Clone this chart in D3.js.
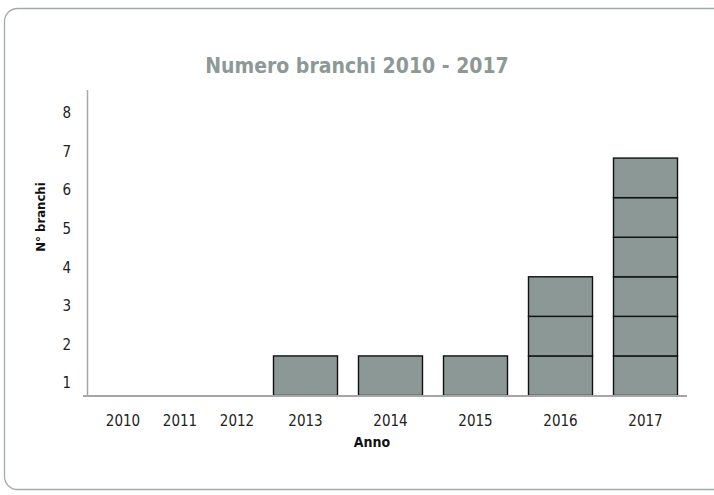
<!DOCTYPE html>
<html>
<head>
<meta charset="utf-8">
<script src="https://cdn.jsdelivr.net/npm/d3@7"></script>
<style>
  html, body { margin: 0; padding: 0; background: #fff; }
  svg { display: block; }
  text { font-family: "DejaVu Sans Condensed", "Roboto", sans-serif; }
</style>
</head>
<body>
<svg id="chart" width="714" height="495"></svg>
<script>
// Years on the category axis and number of branches per year
const years = ["2010", "2011", "2012", "2013", "2014", "2015", "2016", "2017"];
const branches = [0, 0, 0, 1, 1, 1, 3, 6];
// Labels shown along the vertical axis
const yTickLabels = [1, 2, 3, 4, 5, 6, 7, 8];

const svg = d3.select("#chart");

// Panel frame
svg.append("rect")
  .attr("x", 4.5).attr("y", 8.5)
  .attr("width", 740).attr("height", 481)
  .attr("rx", 13).attr("ry", 13)
  .attr("fill", "#fff")
  .attr("stroke", "#a3abaa")
  .attr("stroke-width", 1.3);

// Category centres: empty early years are packed closer together
const x = d3.scaleLinear()
  .domain([0, 2, 3, 7])
  .range([123, 237, 305.5, 645.5]);
const barWidth = 64;

const y = d3.scaleLinear().domain([0, 7.72]).range([395.5, 90]);
const yLabel = d3.scaleLinear().domain([1, 8]).range([383, 113]);

// Title
svg.append("text")
  .attr("x", 357).attr("y", 73)
  .attr("text-anchor", "middle")
  .attr("font-size", 21)
  .attr("font-weight", "bold")
  .attr("fill", "#8d9997")
  .text("Numero branchi 2010 - 2017");

// Stacked unit segments for each year
const segments = [];
years.forEach((yr, i) => {
  d3.range(branches[i]).forEach(k => segments.push({ i, k }));
});

svg.append("g").selectAll("rect")
  .data(segments)
  .join("rect")
  .attr("x", d => x(d.i) - barWidth / 2)
  .attr("y", d => y(d.k + 1))
  .attr("width", barWidth)
  .attr("height", d => y(d.k) - y(d.k + 1))
  .attr("fill", "#8c9896")
  .attr("stroke", "#111")
  .attr("stroke-width", 1.4);

// Axis lines
svg.append("line")
  .attr("x1", 87.5).attr("x2", 87.5)
  .attr("y1", y.range()[1]).attr("y2", y(0))
  .attr("stroke", "#a6a6a6").attr("stroke-width", 1.5);
svg.append("line")
  .attr("x1", 83).attr("x2", 687)
  .attr("y1", y(0) + 0.5).attr("y2", y(0) + 0.5)
  .attr("stroke", "#a6a6a6").attr("stroke-width", 2);

// Vertical axis labels
svg.append("g").selectAll("text")
  .data(yTickLabels)
  .join("text")
  .attr("x", 71)
  .attr("y", d => yLabel(d))
  .attr("dy", "0.35em")
  .attr("text-anchor", "end")
  .attr("font-size", 15)
  .attr("fill", "#222")
  .text(d => d);

// Year labels
svg.append("g").selectAll("text")
  .data(years)
  .join("text")
  .attr("x", (d, i) => x(i))
  .attr("y", 421)
  .attr("dy", "0.35em")
  .attr("text-anchor", "middle")
  .attr("font-size", 15)
  .attr("fill", "#222")
  .text(d => d);

// Axis titles
svg.append("text")
  .attr("x", 372).attr("y", 442)
  .attr("dy", "0.35em")
  .attr("text-anchor", "middle")
  .attr("font-size", 14)
  .attr("font-weight", "bold")
  .attr("fill", "#111")
  .text("Anno");

svg.append("text")
  .attr("transform", "translate(40,217) rotate(-90)")
  .attr("dy", "0.35em")
  .attr("text-anchor", "middle")
  .attr("font-size", 13)
  .attr("font-weight", "bold")
  .attr("fill", "#111")
  .text("N° branchi");
</script>
</body>
</html>
